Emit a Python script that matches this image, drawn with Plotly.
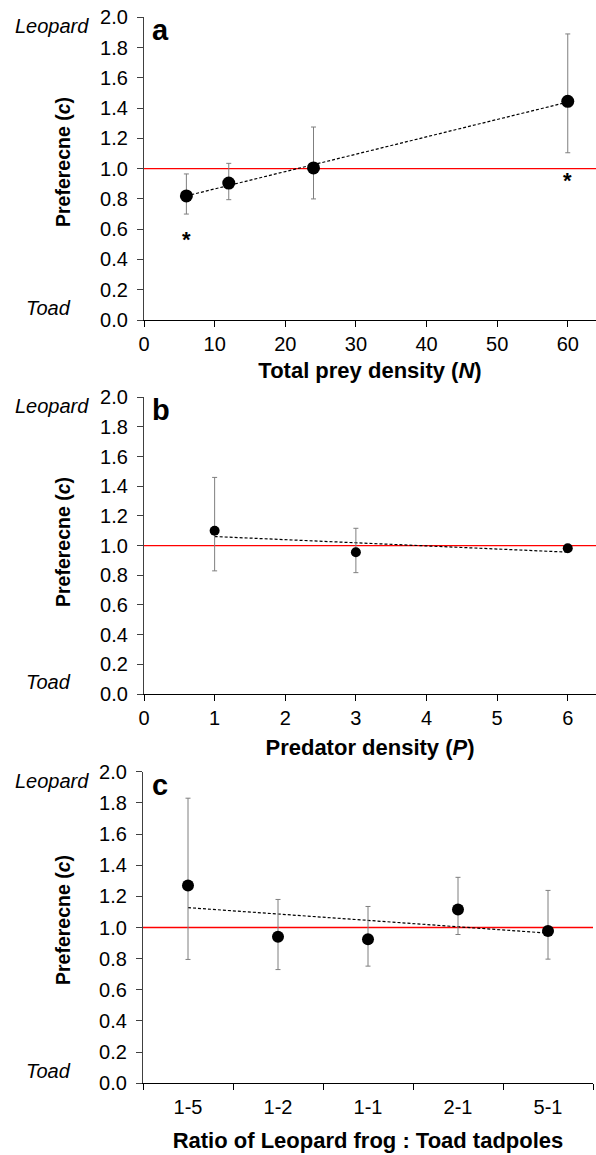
import numpy as np
import plotly.graph_objects as go

# ---------------- data ----------------
# Panel a: total prey density
a_x = [6, 12, 24, 60]
a_mean = [0.82, 0.905, 1.005, 1.445]
a_upper = [0.965, 1.035, 1.275, 1.89]
a_lower = [0.70, 0.795, 0.80, 1.105]
a_star_x = [6, 60]
a_star_y = [0.535, 0.925]

# Panel b: predator density
b_x = [1, 3, 6]
b_mean = [1.10, 0.955, 0.982]
b_upper = [1.46, 1.117, 1.0]
b_lower = [0.83, 0.818, 0.965]

# Panel c: ratio
c_cats = ["1-5", "1-2", "1-1", "2-1", "5-1"]
c_mean = [1.27, 0.94, 0.925, 1.115, 0.978]
c_upper = [1.83, 1.18, 1.135, 1.322, 1.238]
c_lower = [0.795, 0.73, 0.752, 0.955, 0.797]

y_ticks = [0.0, 0.2, 0.4, 0.6, 0.8, 1.0, 1.2, 1.4, 1.6, 1.8, 2.0]

W, H = 596, 1155
FONT = "Liberation Sans, Arial, sans-serif"

def px(v):
    return v / W

def py(v):
    return 1 - v / H

fig = go.Figure()

def err(mean, up, lo):
    return (np.array(up) - np.array(mean)).tolist(), (np.array(mean) - np.array(lo)).tolist()

def add_panel(mean, up, lo, xa, ya, msize, trend_x_num, xs_plot):
    e_up, e_lo = err(mean, up, lo)
    k, b = np.polyfit(trend_x_num, mean, 1)
    tx = [trend_x_num[0], trend_x_num[-1]]
    ty = [k * t + b for t in tx]
    tx_plot = [xs_plot[0], xs_plot[-1]]
    fig.add_trace(go.Scatter(x=tx_plot, y=ty, mode="lines", xaxis=xa, yaxis=ya,
                             line=dict(color="black", width=1.2, dash="3px,2px"),
                             showlegend=False, hoverinfo="skip"))
    fig.add_trace(go.Scatter(x=xs_plot, y=mean, mode="markers", xaxis=xa, yaxis=ya,
                             marker=dict(color="black", size=msize),
                             error_y=dict(type="data", array=e_up, arrayminus=e_lo,
                                          color="#7f7f7f", thickness=1, width=2.5),
                             showlegend=False))

add_panel(a_mean, a_upper, a_lower, "x", "y", 13, a_x, a_x)
add_panel(b_mean, b_upper, b_lower, "x2", "y2", 10, b_x, b_x)
add_panel(c_mean, c_upper, c_lower, "x3", "y3", 12, list(range(len(c_cats))), c_cats)

tickfont = dict(family=FONT, size=20, color="black")
xtitlefont = dict(family=FONT, size=22, color="black")
ytitlefont = dict(family=FONT, size=19.5, color="black")

# panel geometry in pixels (top, bottom)
pa = (17.3, 320.0)
pb = (397.3, 694.0)
pc = (771.7, 1083.3)

yax_common = dict(range=[0, 2.0], tickvals=y_ticks, ticktext=[f"{v:.1f}" for v in y_ticks],
                  showgrid=False, zeroline=False, showline=True, linecolor="#404040",
                  linewidth=1.2, ticks="outside", ticklen=6, tickcolor="#404040",
                  tickfont=tickfont, ticklabelstandoff=5, automargin=False)
xax_common = dict(showgrid=False, zeroline=False, showline=True, linecolor="black",
                  linewidth=1.2, ticks="outside", ticklen=6, tickcolor="black",
                  tickfont=tickfont, automargin=False)

fig.update_layout(
    template="none",
    width=W, height=H, margin=dict(l=0, r=0, t=0, b=0, autoexpand=False),
    paper_bgcolor="white", plot_bgcolor="white",
    xaxis=dict(domain=[px(144), 1.0], range=[0, 64], tickvals=[0, 10, 20, 30, 40, 50, 60],
               anchor="y",
               title=dict(text="<b>Total prey density (<i>N</i>)</b>", font=xtitlefont, standoff=8),
               **xax_common),
    yaxis=dict(domain=[py(pa[1]), py(pa[0])], anchor="x", **yax_common),
    xaxis2=dict(domain=[px(144), 1.0], range=[0, 6.4], tickvals=[0, 1, 2, 3, 4, 5, 6],
                anchor="y2",
                title=dict(text="<b>Predator density (<i>P</i>)</b>", font=xtitlefont, standoff=11),
                **xax_common),
    yaxis2=dict(domain=[py(pb[1]), py(pb[0])], anchor="x2", **yax_common),
    xaxis3=dict(domain=[px(143), px(593)], type="category", range=[-0.5, 4.5],
                categoryorder="array", categoryarray=c_cats, tickson="boundaries",
                anchor="y3", ticklabelstandoff=6,
                title=dict(text="<b>Ratio of Leopard frog : Toad tadpoles</b>", font=xtitlefont, standoff=15),
                **xax_common),
    yaxis3=dict(domain=[py(pc[1]), py(pc[0])], anchor="x3", **yax_common),
)

# red reference lines
for xa, ya in [("x", "y"), ("x2", "y2"), ("x3", "y3")]:
    fig.add_shape(type="line", xref=f"{xa} domain", yref=ya, x0=0, x1=1, y0=1.0, y1=1.0,
                  line=dict(color="red", width=1.4), layer="below")

anns = []
panels = [("a", pa, 162), ("b", pb, 542), ("c", pc, 920)]
for letter, (top, bot), ycen in panels:
    anns.append(dict(text="<b>Preferecne (<i>c</i>)</b>", x=px(63), y=py(ycen), xref="paper", yref="paper",
                     textangle=-90, showarrow=False, font=ytitlefont, xanchor="center", yanchor="middle"))
    anns.append(dict(text="<i>Leopard</i>", x=px(52), y=py(top + 9), xref="paper", yref="paper",
                     showarrow=False, font=dict(family=FONT, size=20, color="black"),
                     xanchor="center", yanchor="middle"))
    anns.append(dict(text="<i>Toad</i>", x=px(48), y=py(bot - 12), xref="paper", yref="paper",
                     showarrow=False, font=dict(family=FONT, size=20, color="black"),
                     xanchor="center", yanchor="middle"))
    anns.append(dict(text=f"<b>{letter}</b>", x=px(150), y=py(top + 13), xref="paper", yref="paper",
                     showarrow=False, font=dict(family=FONT, size=29, color="black"),
                     xanchor="left", yanchor="middle"))

for sx, sy in zip(a_star_x, a_star_y):
    anns.append(dict(text="<b>*</b>", x=sx, y=sy, xref="x", yref="y", showarrow=False,
                     font=dict(family=FONT, size=22, color="black"), xanchor="center", yanchor="middle"))

fig.update_layout(annotations=anns)
fig.write_html("out.html", config={"displayModeBar": False},
               post_script="document.body.style.margin='0';document.body.style.overflow='hidden';")
